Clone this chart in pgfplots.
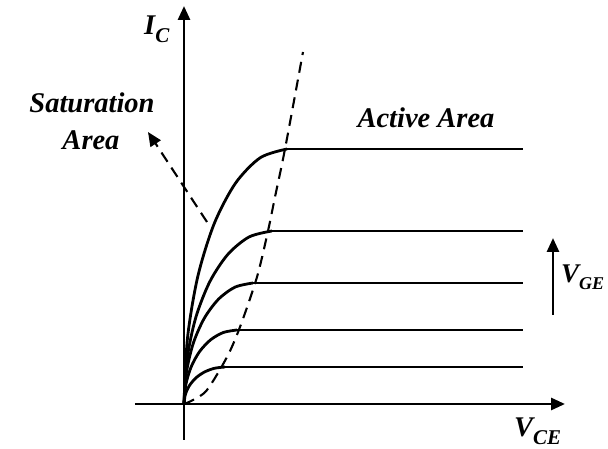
\documentclass[border=0pt]{standalone}
\usepackage{fontspec}
\setmainfont{Liberation Serif}
\usepackage{pgfplots}
\pgfplotsset{compat=1.18}
\usetikzlibrary{arrows.meta}
\newcommand\lbl{\fontsize{28.5}{30}\selectfont\bfseries\itshape}
\newcommand\sub[1]{\raisebox{-0.25em}{\fontsize{21}{22}\selectfont\bfseries\itshape #1}}
\begin{document}
\begin{tikzpicture}
\path[use as bounding box] (-184pt,-45pt) rectangle (424pt,404pt);
\begin{axis}[
  anchor=origin, at={(0pt,0pt)},
  scale only axis, width=430pt, height=434pt,
  xmin=-49, xmax=381, ymin=-36, ymax=398,
  axis lines=middle,
  axis line style={line width=2.8pt, -{Triangle[length=14pt,width=12pt]}},
  xtick=\empty, ytick=\empty,
  clip=false,
]
% characteristic curves
\addplot[line width=2.8pt, smooth] coordinates {(0,0) (3.5,66.0) (13.8,127.5) (30.2,180.3) (51.5,220.8) (76.3,246.3) (103,255)};
\addplot[line width=2.8pt] coordinates {(103,255) (339,255)};
\addplot[line width=2.8pt, smooth] coordinates {(0,0) (3.0,44.8) (11.8,86.5) (25.8,122.3) (44,149.8) (65.2,167.1) (88,173)};
\addplot[line width=2.8pt] coordinates {(88,173) (339,173)};
\addplot[line width=2.8pt, smooth] coordinates {(0,0) (2.4,31.3) (9.2,60.5) (20.2,85.6) (34.5,104.8) (51.1,116.9) (69,121)};
\addplot[line width=2.8pt] coordinates {(69,121) (339,121)};
\addplot[line width=2.8pt, smooth] coordinates {(0,0) (1.8,19.2) (7.1,37) (15.5,52.3) (26.5,64.1) (39.3,71.5) (53,74)};
\addplot[line width=2.8pt] coordinates {(53,74) (339,74)};
\addplot[line width=2.8pt, smooth] coordinates {(0,0) (1.4,9.6) (5.5,18.5) (12.0,26.2) (20.5,32.0) (30.4,35.7) (41,37)};
\addplot[line width=2.8pt] coordinates {(41,37) (339,37)};
% boundary between saturation and active areas
\addplot[line width=2.1pt, smooth, dash pattern=on 11pt off 7pt] coordinates {(0,0) (9,4) (23,14) (43,47) (56,77) (73,127) (84,173) (91,207) (101,255) (119,352)};
% dashed arrow to saturation label
\addplot[line width=2.1pt, dash pattern=on 11pt off 7pt, -{Triangle[length=14pt,width=12pt]}] coordinates {(23,182) (-36,272)};
% V_GE arrow
\addplot[line width=2.8pt, -{Triangle[length=14pt,width=12pt]}] coordinates {(369,89) (369,166)};
% labels
\node[anchor=base west, inner sep=0pt] at (axis cs:-40,369) {\lbl I\sub{C}};
\node[anchor=base west, inner sep=0pt] at (axis cs:330,-33) {\lbl V\sub{CE}};
\node[anchor=base west, inner sep=0pt] at (axis cs:377,121) {\fontsize{27}{30}\selectfont\bfseries\itshape V\raisebox{-0.25em}{\fontsize{18}{19}\selectfont\bfseries\itshape GE}};
\node[anchor=base, inner sep=0pt] at (axis cs:-92,291) {\lbl Saturation};
\node[anchor=base, inner sep=0pt] at (axis cs:-93,254) {\lbl Area};
\node[anchor=base, inner sep=0pt] at (axis cs:242,276) {\lbl Active Area};
\end{axis}
\end{tikzpicture}
\end{document}
